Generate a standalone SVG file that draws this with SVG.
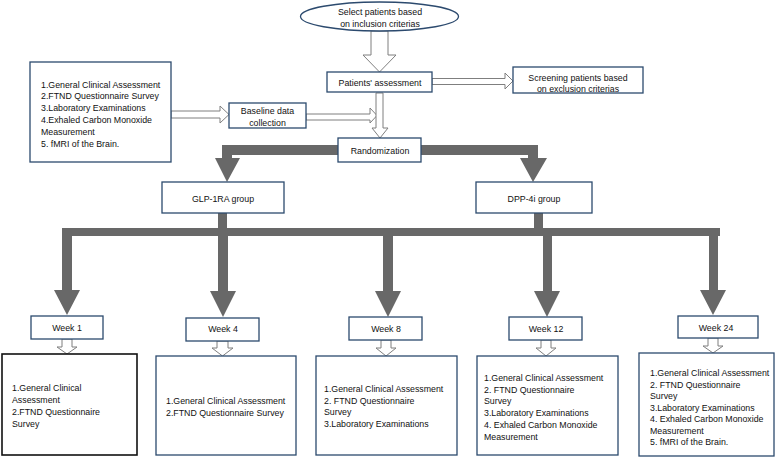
<svg xmlns="http://www.w3.org/2000/svg" width="779" height="457" viewBox="0 0 779 457">
<style>
text{font-family:"Liberation Sans",Arial,sans-serif;font-size:8.8px;fill:#111}
.c{text-anchor:middle}
.box{fill:#fff;stroke:#2c4a6e;stroke-width:1.3}
.bk{fill:#fff;stroke:#111;stroke-width:1.6}
.hol{fill:#fff;stroke:#7f7f7f;stroke-width:1}
.thk{fill:#686868;stroke:none}
</style>
<g id="connectors">
<polygon class="hol" points="371,31 388,31 388,55 396,55 379.5,72 363,55 371,55"/>
<polygon class="hol" points="432,78.5 505,78.5 505,73 513,81 505,89 505,84.5 432,84.5"/>
<polygon class="hol" points="171,111 220,111 220,106 229,114.5 220,123 220,118 171,118"/>
<polygon class="hol" points="306,114 370,114 370,108 377,115.5 370,123 370,120 306,120"/>
<polygon class="hol" points="376,93 383,93 383,128 388,128 380,138 372,128 376,128"/>
<polygon class="hol" points="62,339 72,339 72,347 77,347 67,354 57,347 62,347"/>
<polygon class="hol" points="217,341 228,341 228,348 233,348 222.5,356 212,348 217,348"/>
<polygon class="hol" points="381,340 391,340 391,348 396,348 386,356 376,348 381,348"/>
<polygon class="hol" points="541,340 551,340 551,348 556,348 546,356 536,348 541,348"/>
<polygon class="hol" points="708,338 718,338 718,346 723,346 713,353 703,346 708,346"/>
<polygon class="thk" points="338,145 222,145 222,158 215,158 227,182 240,158 232,158 232,155 338,155"/>
<polygon class="thk" points="421,145 538,145 538,158 547,158 533,182 520,158 528,158 528,155 421,155"/>
<rect class="thk" x="218" y="213" width="9" height="16"/>
<rect class="thk" x="534" y="213" width="9" height="16"/>
<rect class="thk" x="62" y="228" width="658" height="8"/>
<polygon class="thk" points="62,236 72,236 72,290 80,290 67,315 54,290 62,290"/>
<polygon class="thk" points="218,236 228,236 228,291 236,291 223,317 210,291 218,291"/>
<polygon class="thk" points="383,236 393,236 393,291 401,291 388,317 375,291 383,291"/>
<polygon class="thk" points="543,236 552,236 552,291 560,291 547,317 534,291 543,291"/>
<polygon class="thk" points="709,236 718,236 718,290 726,290 713,315 700,290 709,290"/>
</g>
<g id="n-select">
<ellipse class="box" cx="379.5" cy="16.5" rx="79" ry="14.5"/>
<text class="c" x="380" y="15">Select patients based</text>
<text class="c" x="380" y="26.5">on inclusion criterias</text>
</g>
<g id="n-assess">
<rect class="box" x="327" y="72" width="105" height="20"/>
<text class="c" x="380" y="85.5">Patients' assessment</text>
</g>
<g id="n-screen">
<rect class="box" x="513" y="67" width="130" height="26"/>
<text class="c" x="578" y="80.5">Screening patients based</text>
<text class="c" x="578" y="92">on exclusion criterias</text>
</g>
<g id="n-items">
<rect class="box" x="30" y="62" width="141" height="100"/>
<text x="41" y="87.5">1.General Clinical Assessment</text>
<text x="41" y="99.3">2.FTND Questionnaire Survey</text>
<text x="41" y="111.1">3.Laboratory Examinations</text>
<text x="41" y="122.9">4.Exhaled Carbon Monoxide</text>
<text x="41" y="134.7">Measurement</text>
<text x="41" y="146.5">5. fMRI of the Brain.</text>
</g>
<g id="n-baseline">
<rect class="box" x="229" y="103" width="77" height="25"/>
<text class="c" x="267.5" y="114">Baseline data</text>
<text class="c" x="267.5" y="125.5">collection</text>
</g>
<g id="n-random">
<rect class="box" x="338" y="138" width="83" height="24"/>
<text class="c" x="380" y="154">Randomization</text>
</g>
<g id="n-glp">
<rect class="box" x="162" y="182" width="122" height="31"/>
<text class="c" x="223" y="202">GLP-1RA group</text>
</g>
<g id="n-dpp">
<rect class="box" x="476" y="182" width="116" height="31"/>
<text class="c" x="534" y="202">DPP-4i group</text>
</g>
<g id="n-w1">
<rect class="box" x="31" y="316" width="72" height="23"/>
<text class="c" x="67" y="331">Week 1</text>
</g>
<g id="n-w4">
<rect class="box" x="186" y="318" width="73" height="23"/>
<text class="c" x="223" y="332">Week 4</text>
</g>
<g id="n-w8">
<rect class="box" x="349" y="317" width="73" height="23"/>
<text class="c" x="386" y="332">Week 8</text>
</g>
<g id="n-w12">
<rect class="box" x="509" y="317" width="73" height="23"/>
<text class="c" x="546" y="332">Week 12</text>
</g>
<g id="n-w24">
<rect class="box" x="678" y="316" width="80" height="22"/>
<text class="c" x="716" y="330.5">Week 24</text>
</g>
<g id="n-d1">
<rect class="bk" x="2" y="354" width="135" height="101"/>
<text x="12" y="391">1.General Clinical</text>
<text x="12" y="403">Assessment</text>
<text x="12" y="415">2.FTND Questionnaire</text>
<text x="12" y="426.5">Survey</text>
</g>
<g id="n-d4">
<rect class="box" x="156" y="356" width="140" height="99"/>
<text x="166" y="404">1.General Clinical Assessment</text>
<text x="166" y="415.5">2.FTND Questionnaire Survey</text>
</g>
<g id="n-d8">
<rect class="box" x="316" y="356" width="141" height="99"/>
<text x="324" y="392">1.General Clinical Assessment</text>
<text x="324" y="403.5">2. FTND Questionnaire</text>
<text x="324" y="415">Survey</text>
<text x="324" y="426.5">3.Laboratory Examinations</text>
</g>
<g id="n-d12">
<rect class="box" x="477" y="356" width="141" height="99"/>
<text x="484" y="381">1.General Clinical Assessment</text>
<text x="484" y="392.5">2. FTND Questionnaire</text>
<text x="484" y="404">Survey</text>
<text x="484" y="416">3.Laboratory Examinations</text>
<text x="484" y="428">4. Exhaled Carbon  Monoxide</text>
<text x="484" y="440">Measurement</text>
</g>
<g id="n-d24">
<rect class="box" x="639" y="353" width="135" height="103"/>
<text x="650" y="376">1.General Clinical Assessment</text>
<text x="650" y="387.5">2. FTND Questionnaire</text>
<text x="650" y="399">Survey</text>
<text x="650" y="410.5">3.Laboratory Examinations</text>
<text x="650" y="422">4. Exhaled Carbon Monoxide</text>
<text x="650" y="433.5">Measurement</text>
<text x="650" y="445">5. fMRI of the Brain.</text>
</g>
</svg>
